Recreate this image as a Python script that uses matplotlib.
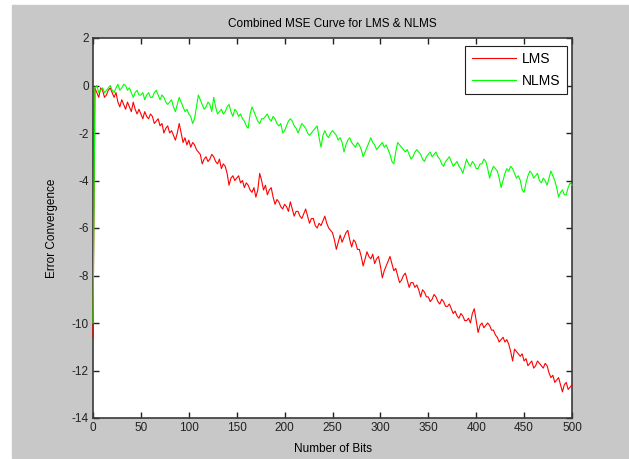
import matplotlib
matplotlib.use("Agg")
import matplotlib.pyplot as plt
from matplotlib.patches import Rectangle

# bit index of each sample: the first two bits, then every 2nd bit
bits = [0, 1] + list(range(2, 501, 2))

mse_lms = [
    -10.6, -5.5,
    -0.1, -0.3, -0.5, -0.1, -0.2, -0.5, -0.4, -0.2, -0.1, -0.3,
    -0.5, -0.3, -0.7, -0.9, -0.6, -0.8, -1.0, -0.7, -0.9, -1.1,
    -0.7, -1.0, -1.2, -1.0, -1.2, -1.4, -1.1, -1.3, -1.4, -1.2,
    -1.3, -1.6, -1.5, -1.4, -1.7, -1.6, -2.0, -1.8, -1.7, -2.0,
    -1.9, -2.1, -2.3, -2.0, -1.6, -2.0, -2.4, -2.2, -2.5, -2.3,
    -2.6, -2.4, -2.5, -2.7, -2.8, -2.9, -3.3, -3.1, -3.0, -3.2,
    -3.1, -2.9, -3.0, -3.2, -3.3, -3.1, -3.5, -3.3, -3.4, -3.7,
    -4.2, -3.9, -3.8, -4.0, -3.9, -3.8, -4.1, -4.0, -4.3, -4.1,
    -4.2, -4.4, -4.5, -4.3, -4.7, -4.4, -3.7, -4.0, -4.4, -4.2,
    -4.6, -4.4, -4.3, -4.7, -5.0, -4.8, -4.9, -5.1, -5.2, -5.0,
    -5.1, -5.3, -4.9, -5.2, -5.5, -5.3, -5.3, -5.5, -5.6, -5.4,
    -5.2, -5.5, -5.8, -5.6, -5.6, -5.9, -6.0, -5.8, -5.9, -5.7,
    -5.5, -5.8, -6.0, -6.1, -6.2, -6.5, -6.9, -6.6, -6.3, -6.6,
    -6.4, -6.2, -6.1, -6.5, -6.8, -6.5, -6.6, -6.9, -6.9, -7.2,
    -7.6, -7.3, -7.0, -7.2, -7.3, -7.1, -7.5, -7.3, -7.2, -7.6,
    -8.1, -7.8, -7.6, -7.4, -7.2, -7.5, -7.8, -7.7, -8.0, -8.3,
    -8.2, -8.0, -7.9, -8.2, -8.5, -8.3, -8.3, -8.5, -8.4, -8.6,
    -8.9, -8.6, -8.7, -8.9, -8.9, -9.1, -9.0, -8.8, -8.9, -9.1,
    -9.2, -9.0, -9.1, -9.3, -9.3, -9.2, -9.4, -9.6, -9.5, -9.7,
    -9.8, -9.6, -9.7, -9.9, -9.9, -9.8, -10.0, -9.6, -9.4, -9.9,
    -10.4, -10.1, -10.0, -10.2, -10.1, -10.0, -10.1, -10.3, -10.3, -10.5,
    -10.6, -10.8, -10.7, -10.6, -10.8, -10.7, -10.9, -11.2, -11.6, -11.1,
    -11.2, -11.3, -11.4, -11.3, -11.6, -11.5, -11.8, -11.7, -11.6, -11.9,
    -11.8, -11.6, -11.7, -11.8, -11.9, -11.7, -11.8, -12.1, -12.3, -12.2,
    -12.5, -12.4, -12.3, -12.6, -12.9, -12.6, -12.5, -12.8, -12.7, -12.6,
]

mse_nlms = [
    -10.0, -5.4,
    -0.1, 0.0, -0.3, -0.2, -0.1, -0.3, -0.2, -0.1, 0.0, -0.2,
    -0.3, -0.1, 0.05, -0.2, -0.1, 0.05, 0.0, -0.2, -0.1, -0.3,
    -0.5, -0.3, -0.2, -0.4, -0.4, -0.3, -0.6, -0.4, -0.3, -0.5,
    -0.5, -0.3, -0.2, -0.4, -0.6, -0.4, -0.5, -0.7, -0.8, -0.7,
    -0.6, -0.9, -1.1, -0.8, -0.5, -0.7, -0.9, -1.1, -1.0, -1.2,
    -1.3, -1.6, -1.4, -0.9, -0.4, -0.6, -0.8, -1.0, -0.9, -0.7,
    -0.8, -1.1, -0.5, -0.9, -1.2, -1.1, -1.0, -1.2, -1.1, -0.9,
    -0.8, -1.1, -1.3, -1.0, -1.1, -1.3, -1.2, -1.4, -1.5, -1.7,
    -1.8, -1.2, -0.9, -1.1, -1.3, -1.5, -1.6, -1.4, -1.4, -1.3,
    -1.2, -1.4, -1.5, -1.3, -1.4, -1.6, -1.7, -1.6, -2.0, -1.9,
    -1.7, -1.5, -1.4, -1.5, -1.7, -1.8, -2.0, -1.8, -1.6, -1.7,
    -1.8, -2.0, -2.1, -2.0, -1.9, -1.8, -1.7, -2.2, -2.6, -2.1,
    -1.9, -2.1, -2.2, -2.0, -1.9, -2.0, -2.1, -2.3, -2.2, -2.4,
    -2.8, -2.5, -2.3, -2.2, -2.4, -2.5, -2.6, -2.4, -2.5, -2.7,
    -3.0, -2.8, -2.6, -2.4, -2.2, -2.4, -2.5, -2.7, -2.6, -2.5,
    -2.4, -2.6, -2.5, -2.7, -2.9, -3.2, -3.3, -2.8, -2.4, -2.5,
    -2.6, -2.7, -2.8, -2.7, -2.9, -3.1, -3.0, -2.8, -2.7, -2.8,
    -2.9, -3.1, -3.2, -3.0, -2.9, -2.8, -3.0, -2.9, -2.8, -3.0,
    -3.1, -3.3, -3.4, -3.2, -3.1, -3.0, -3.2, -3.4, -3.3, -3.2,
    -3.4, -3.5, -3.7, -3.4, -3.1, -3.3, -3.4, -3.2, -3.3, -3.5,
    -3.5, -3.3, -3.3, -3.1, -3.2, -3.5, -3.9, -3.6, -3.4, -3.5,
    -3.6, -3.9, -4.3, -4.0, -3.7, -3.5, -3.6, -3.4, -3.5, -3.7,
    -3.9, -3.8, -4.0, -4.4, -4.5, -4.1, -3.8, -3.6, -3.7, -3.9,
    -3.8, -3.7, -4.0, -4.1, -3.9, -4.0, -4.2, -3.9, -3.6, -3.8,
    -4.0, -4.3, -4.7, -4.5, -4.4, -4.6, -4.6, -4.3, -4.1, -4.2,
]

x_ticks = [0, 50, 100, 150, 200, 250, 300, 350, 400, 450, 500]
y_ticks = [2, 0, -2, -4, -6, -8, -10, -12, -14]

plt.rcParams["font.family"] = ["Liberation Sans", "DejaVu Sans"]
plt.rcParams["axes.unicode_minus"] = False

fig = plt.figure(figsize=(6.29, 4.59), dpi=100, facecolor="white")
fig.patches.append(Rectangle((12 / 629, 1 / 459), 1, 453 / 459,
                             transform=fig.transFigure, color="#c8c8c8",
                             zorder=-10))

ax = fig.add_axes([93 / 629, 41 / 459, 479 / 629, 380 / 459])
ax.set_facecolor("white")

ax.plot(bits, mse_lms, color="#ff0000", lw=0.8, label="LMS",
        zorder=3, clip_on=False)
ax.plot(bits, mse_nlms, color="#00ff00", lw=0.8, label="NLMS",
        zorder=3, clip_on=False)

ax.set_xlim(0, 500)
ax.set_ylim(-14, 2)
ax.set_xticks(x_ticks)
ax.set_yticks(y_ticks)

fs = 8.5
ax.tick_params(direction="in", length=4, width=1, top=True, right=True,
               labelsize=fs, colors="#222222", pad=3)
for s in ax.spines.values():
    s.set_color("#3a3a3a")
    s.set_linewidth(1.2)

ax.set_title("Combined MSE Curve for LMS & NLMS", fontsize=fs, pad=8)
ax.set_xlabel("Number of Bits", fontsize=fs, labelpad=6)
ax.set_ylabel("Error Convergence", fontsize=fs, labelpad=10)

leg = ax.legend(loc="upper right", bbox_to_anchor=(0.9896, 0.979),
                fontsize=10, fancybox=False, framealpha=1,
                edgecolor="#222222", handlelength=3.2, borderaxespad=0,
                borderpad=0.45, labelspacing=0.55, handletextpad=0.45)
leg.get_frame().set_linewidth(0.8)
leg.set_zorder(5)

fig.savefig("out.png", dpi=100, facecolor=fig.get_facecolor())
